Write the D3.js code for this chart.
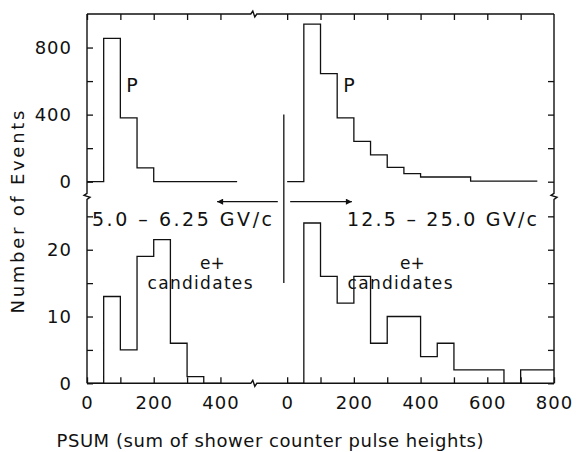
<!DOCTYPE html>
<html>
<head>
<meta charset="utf-8">
<script src="https://cdn.jsdelivr.net/npm/d3@7"></script>
<style>
  body { margin: 0; background: #fff; }
  text { font-family: "DejaVu Sans", sans-serif; fill: #111; }
</style>
</head>
<body>
<svg id="chart" width="580" height="452"></svg>
<script>
// PSUM histograms, 50-unit bins starting at 0
const binWidth = 50;
const protonLow = [0, 855, 380, 83, 0, 0, 0, 0, 0];                      // 5.0 – 6.25 GV/c
const protonHigh = [0, 940, 645, 380, 240, 160, 85, 48, 28, 28, 28, 4, 4, 4, 4]; // 12.5 – 25.0 GV/c
const positronLow = [0, 13, 5, 19, 21.5, 6, 1, 0];
const positronHigh = [0, 24, 16, 12, 16, 6, 10, 10, 4, 6, 2, 2, 2, 0, 2, 2];

// tick values
const xTicksLowAll = [0, 100, 200, 300, 400];
const xTicksHighAll = [0, 100, 200, 300, 400, 500, 600, 700, 800];
const xLabelsLow = [0, 200, 400];
const xLabelsHigh = [0, 200, 400, 600, 800];
const yTicksTopAll = [0, 200, 400, 600, 800];
const yTicksTopRight = [0, 200, 400, 600];
const yLabelsTop = [0, 400, 800];
const yTicksBottomAll = [0, 5, 10, 15, 20, 25];
const yLabelsBottom = [0, 10, 20];

const svg = d3.select("#chart");

const frameL = 87, frameR = 554, frameT = 14, frameB = 383.3;
const breakX = 253.8, breakY = 196.3;

const xLow = d3.scaleLinear().domain([0, 500]).range([frameL, breakX]);
const xHigh = d3.scaleLinear().domain([-100, 800]).range([breakX, frameR]);
const yTop = d3.scaleLinear().domain([0, 1000]).range([181.7, frameT]);
const yBot = d3.scaleLinear().domain([0, 28]).range([frameB, breakY]);

const ink = "#111";
const sw = 1.3;
const tickFont = 18;

// histogram outline as a step path
function stepPath(values, x, y) {
  let d = `M${x(0)},${y(values[0])}`;
  values.forEach((v, i) => {
    d += `H${x((i + 1) * binWidth)}`;
    if (i + 1 < values.length) d += `V${y(values[i + 1])}`;
  });
  return d;
}

const hist = svg.append("g").attr("fill", "none").attr("stroke", ink).attr("stroke-width", sw);
hist.append("path").attr("d", stepPath(protonLow, xLow, yTop));
hist.append("path").attr("d", stepPath(protonHigh, xHigh, yTop));
hist.append("path").attr("d", stepPath(positronLow, xLow, yBot));
hist.append("path").attr("d", stepPath(positronHigh, xHigh, yBot));

// frame with break marks
function hBreak(x, y) { return `L${x - 3},${y}L${x - 1},${y - 3}L${x + 1},${y + 3}L${x + 3},${y}`; }
function vBreak(x, y) { return `L${x},${y - 3}L${x - 3},${y - 1}L${x + 3},${y + 1}L${x},${y + 3}`; }
const frame = svg.append("g").attr("fill", "none").attr("stroke", ink).attr("stroke-width", 1.4);
frame.append("path").attr("d", `M${frameL},${frameT}` + hBreak(breakX, frameT) + `L${frameR},${frameT}`);
frame.append("path").attr("d", `M${frameL},${frameB}` + hBreak(breakX, frameB) + `L${frameR},${frameB}`);
frame.append("path").attr("d", `M${frameL},${frameT}` + vBreak(frameL, breakY) + `L${frameL},${frameB}`);
frame.append("path").attr("d", `M${frameR},${frameT}` + vBreak(frameR, breakY) + `L${frameR},${frameB}`);

const tick = 6;
function styleAxis(g) {
  g.select(".domain").remove();
  g.selectAll("line").attr("stroke", ink).attr("stroke-width", sw);
  g.selectAll("text").attr("font-size", tickFont).attr("fill", ink)
    .attr("letter-spacing", 1)
    .style("font-family", '"DejaVu Sans", sans-serif');
}

// left axes
svg.append("g").attr("transform", `translate(${frameL},0)`)
  .call(d3.axisLeft(yTop).tickValues(yTicksTopAll).tickSize(-tick).tickPadding(15)
    .tickFormat(d => yLabelsTop.includes(d) ? d : ""))
  .call(styleAxis);
svg.append("g").attr("transform", `translate(${frameL},0)`)
  .call(d3.axisLeft(yBot).tickValues(yTicksBottomAll).tickSize(-tick).tickPadding(15)
    .tickFormat(d => yLabelsBottom.includes(d) ? d : ""))
  .call(styleAxis);

// right axes
svg.append("g").attr("transform", `translate(${frameR},0)`)
  .call(d3.axisRight(yTop).tickValues(yTicksTopRight).tickSize(-tick).tickFormat(""))
  .call(styleAxis);
svg.append("g").attr("transform", `translate(${frameR},0)`)
  .call(d3.axisRight(yBot).tickValues(yTicksBottomAll).tickSize(-tick).tickFormat(""))
  .call(styleAxis);

// top axes
svg.append("g").attr("transform", `translate(0,${frameT})`)
  .call(d3.axisTop(xLow).tickValues(xTicksLowAll).tickSize(-tick).tickFormat(""))
  .call(styleAxis);
svg.append("g").attr("transform", `translate(0,${frameT})`)
  .call(d3.axisTop(xHigh).tickValues(xTicksHighAll.slice(0, -1)).tickSize(-tick).tickFormat(""))
  .call(styleAxis);

// bottom axes
svg.append("g").attr("transform", `translate(0,${frameB})`)
  .call(d3.axisBottom(xLow).tickValues(xTicksLowAll).tickSize(-tick).tickPadding(13)
    .tickFormat(d => xLabelsLow.includes(d) ? d : ""))
  .call(styleAxis);
svg.append("g").attr("transform", `translate(0,${frameB})`)
  .call(d3.axisBottom(xHigh).tickValues(xTicksHighAll).tickSize(-tick).tickPadding(13)
    .tickFormat(d => xLabelsHigh.includes(d) ? d : ""))
  .call(styleAxis);

// axis titles
svg.append("text")
  .attr("x", 270).attr("y", 447).attr("text-anchor", "middle")
  .attr("font-size", 18).attr("textLength", 427).attr("lengthAdjust", "spacing")
  .text("PSUM (sum of shower counter pulse heights)");
svg.append("text")
  .attr("transform", "translate(24,212) rotate(-90)").attr("text-anchor", "middle")
  .attr("font-size", 18).attr("textLength", 203).attr("lengthAdjust", "spacing")
  .text("Number of Events");

// separator between momentum ranges
svg.append("line")
  .attr("x1", xHigh(-10)).attr("x2", xHigh(-10))
  .attr("y1", yBot(15)).attr("y2", yTop(400))
  .attr("stroke", ink).attr("stroke-width", sw);

// arrows pointing to each range
const defs = svg.append("defs");
defs.append("marker").attr("id", "head").attr("viewBox", "0 0 10 10")
  .attr("refX", 10).attr("refY", 5).attr("markerWidth", 8).attr("markerHeight", 6)
  .attr("markerUnits", "userSpaceOnUse").attr("orient", "auto")
  .append("path").attr("d", "M0,0L10,5L0,10Z").attr("fill", ink);
const arrowY = yBot(27.2);
svg.append("line")
  .attr("x1", xHigh(-28)).attr("x2", xLow(390)).attr("y1", arrowY).attr("y2", arrowY)
  .attr("stroke", ink).attr("stroke-width", sw).attr("marker-end", "url(#head)");
svg.append("line")
  .attr("x1", xHigh(9)).attr("x2", xHigh(194)).attr("y1", arrowY).attr("y2", arrowY)
  .attr("stroke", ink).attr("stroke-width", sw).attr("marker-end", "url(#head)");

// range labels
svg.append("text").attr("x", 92).attr("y", 225.5).attr("font-size", 19)
  .attr("textLength", 180).attr("lengthAdjust", "spacing").text("5.0 – 6.25 GV/c");
svg.append("text").attr("x", 347).attr("y", 225.5).attr("font-size", 19)
  .attr("textLength", 190).attr("lengthAdjust", "spacing").text("12.5 – 25.0 GV/c");

// particle labels
svg.append("text").attr("x", xLow(118)).attr("y", 92).attr("font-size", 19).text("P");
svg.append("text").attr("x", xHigh(168)).attr("y", 92).attr("font-size", 19).text("P");

function candidates(cx) {
  svg.append("text").attr("x", cx).attr("y", 269).attr("font-size", 17).text("e+");
  svg.append("text").attr("x", cx).attr("y", 289).attr("font-size", 17).attr("text-anchor", "middle")
    .attr("textLength", 105).attr("lengthAdjust", "spacing").text("candidates");
}
candidates(200);
candidates(400);
</script>
</body>
</html>
